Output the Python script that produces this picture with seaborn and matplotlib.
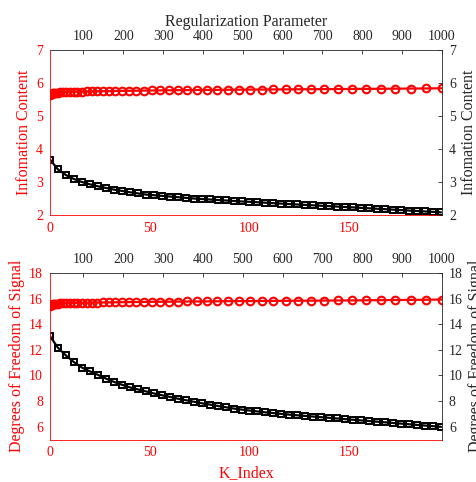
import matplotlib
matplotlib.use("Agg")
import matplotlib.pyplot as plt
import seaborn as sns
import pandas as pd

# ---- data -------------------------------------------------------------
k_index = list(range(0, 197, 4))

reg_param = [16, 16, 18, 20, 23, 26, 31, 36, 42, 49,
             57, 66, 75, 85, 96, 108, 121, 134, 149, 164,
             180, 197, 214, 233, 252, 272, 293, 315, 337, 361,
             385, 410, 436, 462, 490, 518, 547, 577, 608, 639,
             672, 705, 739, 774, 809, 846, 883, 921, 960, 1000]

info_vs_k = [3.68, 3.38, 3.21, 3.09, 3.00, 2.93, 2.87, 2.82, 2.77, 2.73,
             2.69, 2.655, 2.62, 2.60, 2.58, 2.56, 2.54, 2.52, 2.50, 2.485,
             2.47, 2.455, 2.44, 2.425, 2.41, 2.40, 2.386, 2.372, 2.358, 2.345,
             2.332, 2.319, 2.306, 2.293, 2.28, 2.268, 2.255, 2.242, 2.23, 2.216,
             2.203, 2.189, 2.176, 2.162, 2.148, 2.135, 2.121, 2.108, 2.094, 2.08]

info_vs_reg = [5.61, 5.64, 5.66, 5.68, 5.69, 5.70, 5.705, 5.71, 5.715, 5.72,
               5.724, 5.728, 5.732, 5.736, 5.74, 5.743, 5.746, 5.749, 5.752, 5.755,
               5.758, 5.761, 5.764, 5.767, 5.77, 5.773, 5.776, 5.779, 5.782, 5.785,
               5.788, 5.79, 5.792, 5.795, 5.797, 5.80, 5.802, 5.805, 5.807, 5.81,
               5.812, 5.815, 5.817, 5.82, 5.822, 5.825, 5.828, 5.831, 5.835, 5.84]

dfs_vs_k = [13.07, 12.16, 11.56, 11.04, 10.62, 10.32, 10.05, 9.76, 9.50, 9.28,
            9.07, 8.91, 8.76, 8.60, 8.46, 8.33, 8.19, 8.07, 7.95, 7.83,
            7.73, 7.62, 7.52, 7.42, 7.34, 7.26, 7.19, 7.12, 7.06, 7.00,
            6.94, 6.89, 6.84, 6.79, 6.74, 6.69, 6.64, 6.59, 6.54, 6.49,
            6.44, 6.39, 6.34, 6.29, 6.24, 6.19, 6.14, 6.09, 6.04, 5.99]

dfs_vs_reg = [15.40, 15.46, 15.51, 15.54, 15.57, 15.59, 15.60, 15.61, 15.62, 15.63,
              15.64, 15.65, 15.66, 15.67, 15.675, 15.68, 15.69, 15.695, 15.70, 15.71,
              15.715, 15.72, 15.73, 15.735, 15.74, 15.75, 15.755, 15.76, 15.77, 15.775,
              15.78, 15.785, 15.79, 15.80, 15.805, 15.81, 15.815, 15.82, 15.83, 15.835,
              15.84, 15.85, 15.855, 15.86, 15.87, 15.88, 15.89, 15.90, 15.91, 15.93]

k_ticks = [0, 50, 100, 150]
reg_ticks = [100, 200, 300, 400, 500, 600, 700, 800, 900, 1000]
info_ticks = [2, 3, 4, 5, 6, 7]
dfs_ticks = [6, 8, 10, 12, 14, 16, 18]

# ---- style ------------------------------------------------------------
sns.set_style("white")
plt.rcParams["font.family"] = ["Liberation Serif", "DejaVu Serif"]

RED = "#ff0000"
GRAY = "#262626"
TICK_FS = 10
LABEL_FS = 11.5

fig = plt.figure(figsize=(4.76, 4.82), dpi=100)

W, H = 476, 482


def px_rect(x0, y0, x1, y1):
    return [x0 / W, 1 - y1 / H, (x1 - x0) / W, (y1 - y0) / H]


def make_panel(rect, ylim, yticks, ylabel, k_vals, k_series, reg_vals, reg_series,
               top_label=None, bottom_label=None):
    ax = fig.add_axes(rect)
    ax2 = fig.add_axes(rect)
    ax2.patch.set_visible(False)

    # primary axes: K index (bottom) and left y, in red
    sns.lineplot(data=pd.DataFrame({"k": k_vals, "v": k_series}), x="k", y="v",
                 ax=ax, color="black", linewidth=1.6, marker="s", markersize=4,
                 markerfacecolor="none", markeredgecolor="black",
                 markeredgewidth=1.4)
    ax.set_xlim(0, 196.5)
    ax.set_ylim(*ylim)
    ax.set_xticks(k_ticks)
    ax.set_yticks(yticks)
    for s in ("top", "right"):
        ax.spines[s].set_visible(False)
    for s in ("left", "bottom"):
        ax.spines[s].set_color(RED)
        ax.spines[s].set_linewidth(0.6)
    ax.tick_params(axis="both", direction="in", length=3, width=0.6,
                   colors=RED, labelsize=TICK_FS, pad=5)
    ax.set_ylabel(ylabel, color=RED, fontsize=LABEL_FS, labelpad=3)
    ax.set_xlabel(bottom_label if bottom_label else "", color=RED,
                  fontsize=LABEL_FS, labelpad=4)

    # secondary axes: regularization parameter (top) and right y, in gray
    sns.lineplot(data=pd.DataFrame({"r": reg_vals, "v": reg_series}), x="r", y="v",
                 ax=ax2, color=RED, linewidth=1.6, marker="o", markersize=5.5,
                 markerfacecolor="none", markeredgecolor=RED,
                 markeredgewidth=1.5)
    ax2.set_xlim(reg_vals[0], reg_vals[-1])
    ax2.set_ylim(*ylim)
    ax2.set_xticks(reg_ticks)
    ax2.set_yticks(yticks)
    ax2.xaxis.tick_top()
    ax2.yaxis.tick_right()
    ax2.xaxis.set_label_position("top")
    ax2.yaxis.set_label_position("right")
    for s in ("bottom", "left"):
        ax2.spines[s].set_visible(False)
    for s in ("top", "right"):
        ax2.spines[s].set_color(GRAY)
        ax2.spines[s].set_linewidth(0.6)
    ax2.tick_params(axis="both", direction="in", length=3, width=0.6,
                    colors=GRAY, labelsize=TICK_FS, pad=5)
    ax2.set_ylabel(ylabel, color=GRAY, fontsize=LABEL_FS, labelpad=4)
    ax2.set_xlabel(top_label if top_label else "", color=GRAY,
                   fontsize=LABEL_FS, labelpad=3)
    return ax, ax2


make_panel(px_rect(50, 50, 442, 215), (2, 7), info_ticks, "Infomation Content",
           k_index, info_vs_k, reg_param, info_vs_reg,
           top_label="Regularization Parameter")
make_panel(px_rect(50, 273, 442, 439.5), (5, 18), dfs_ticks,
           "Degrees of Freedom of Signal",
           k_index, dfs_vs_k, reg_param, dfs_vs_reg,
           bottom_label="K_Index")

fig.savefig("out.png", dpi=100)
